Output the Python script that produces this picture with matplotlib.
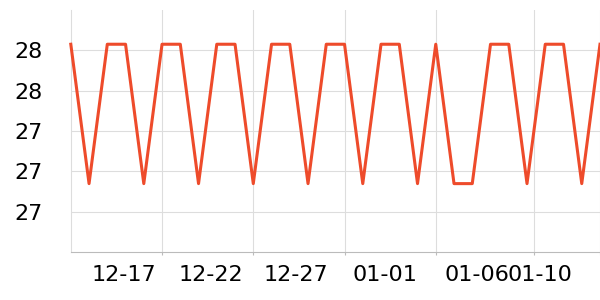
import datetime as dt
import numpy as np
import matplotlib
matplotlib.use('Agg')
import matplotlib.pyplot as plt
import matplotlib.dates as mdates
import matplotlib.ticker as mticker
import matplotlib.transforms as mtrans

# daily values, 2023-12-12 .. 2024-01-10
start = dt.datetime(2023, 12, 12)
dates = [start + dt.timedelta(days=i) for i in range(30)]
values = [28.23, 27.54, 28.23, 28.23, 27.54, 28.23, 28.23, 27.54, 28.23, 28.23,
          27.54, 28.23, 28.23, 27.54, 28.23, 28.23, 27.54, 28.23, 28.23, 27.54,
          28.23, 27.54, 27.54, 28.23, 28.23, 27.54, 28.23, 28.23, 27.54, 28.23]

tick_dates = [dt.datetime(2023, 12, 17), dt.datetime(2023, 12, 22),
              dt.datetime(2023, 12, 27), dt.datetime(2024, 1, 1),
              dt.datetime(2024, 1, 6, 8, 40), dt.datetime(2024, 1, 10)]
tick_labels = ['12-17', '12-22', '12-27', '01-01', '01-06', '01-10']
y_ticks = [27.4, 27.6, 27.8, 28.0, 28.2]

fig = plt.figure(figsize=(6, 3), dpi=100)
ax = fig.add_axes([0.118, 0.159, 0.882, 0.808])

ax.plot(dates, values, color='#ee4b2b', linewidth=2.2, clip_on=False, zorder=3)

ax.set_xlim(dates[0], dates[-1])
ax.set_ylim(27.2, 28.4)

ax.set_xticks(tick_dates)
ax.set_xticklabels(tick_labels)
ax.set_yticks(y_ticks)
ax.yaxis.set_major_formatter(mticker.FuncFormatter(lambda v, p: '%d' % int(v + 1e-9)))

ax.grid(True, color='#dddddd', linewidth=0.8)
ax.set_axisbelow(True)
for s in ['top', 'right']:
    ax.spines[s].set_visible(False)
ax.spines['left'].set_color('#dddddd')
ax.spines['bottom'].set_color('#bbbbbb')
ax.tick_params(axis='y', length=0, pad=20, labelsize=16)
ax.tick_params(axis='x', length=2, color='#bbbbbb', pad=7, labelsize=16)

# the labels sit to the left of their ticks in the original
shifts = [-38.5, -42.5, -48.7, -51.3, -56.3, -60]
for lab, dx in zip(ax.get_xticklabels(), shifts):
    lab.set_transform(lab.get_transform() +
                      mtrans.ScaledTranslation(dx / 100, 0, fig.dpi_scale_trans))

fig.savefig('out.png', dpi=100)
